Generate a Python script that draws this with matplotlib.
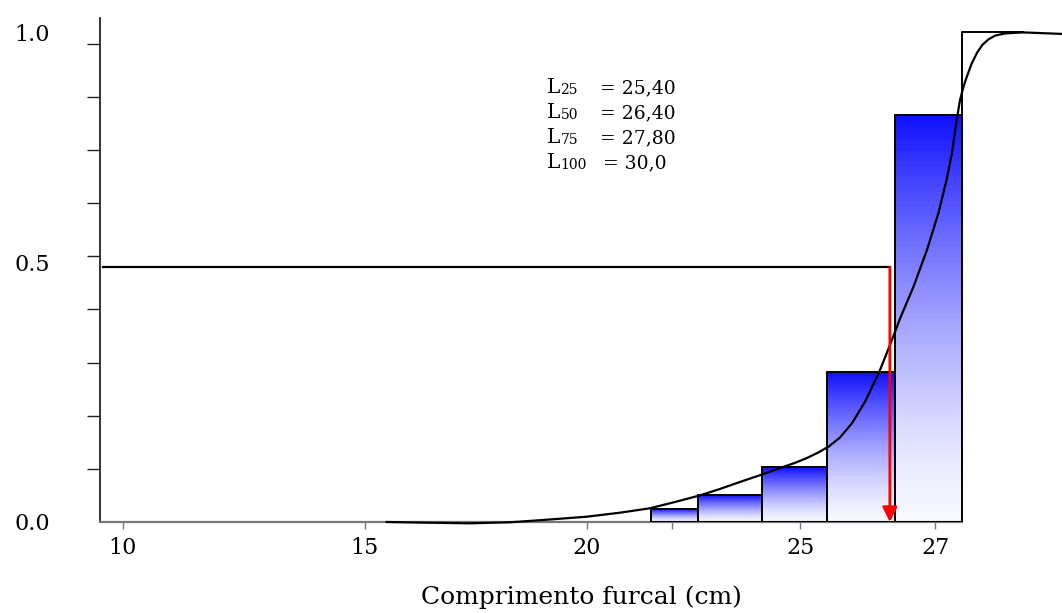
import matplotlib.pyplot as plt
import numpy as np
from matplotlib.colors import LinearSegmentedColormap

plt.rcParams['font.family'] = 'DejaVu Serif'

# class limits (cm) and cumulative relative frequency of each class
class_edges = [21.5, 22.6, 24.1, 25.4, 26.4, 27.4]
cum_freq = [0.027, 0.055, 0.112, 0.306, 0.831]
last_class = [27.4, 28.3]
last_value = 1.0

# fitted curve
curve_x = [15.50, 16.40, 17.37, 18.27, 19.02, 20.00, 20.78, 21.48, 22.07, 22.66,
           23.12, 23.59, 24.11, 24.60, 24.88, 25.10, 25.27, 25.43, 25.59, 25.77,
           25.96, 26.17, 26.33, 26.48, 26.68, 26.88, 27.05, 27.17, 27.25, 27.32,
           27.37, 27.42, 27.47, 27.54, 27.62, 27.70, 27.79, 27.89, 28.04, 28.30, 28.88]
curve_y = [0.0, -0.0014, -0.0027, -0.0006, 0.0041, 0.0108, 0.019, 0.028, 0.0409, 0.0545,
           0.0674, 0.0817, 0.097, 0.1123, 0.1207, 0.1305, 0.1419, 0.1546, 0.1724, 0.2018,
           0.245, 0.3053, 0.3608, 0.415, 0.4805, 0.5554, 0.631, 0.6984, 0.7535, 0.8209,
           0.8618, 0.8883, 0.9091, 0.9353, 0.9577, 0.9741, 0.9853, 0.9931, 0.9976, 0.9996,
           0.9965]

half_level = 0.52
l50_x = 26.33

lengths = ['25', '50', '75', '100']
values = ['25,40', '26,40', '27,80', '30,0']

x_ticks = [10, 15, 20, 25, 27]
x_minor = [22]

# the original axis is not linear: piecewise scale through the tick marks
knots_cm = [9, 10, 15, 20, 25, 27, 29]
knots_pos = [74.7, 123, 364.5, 586.7, 800, 935, 1070]


def forward(x):
    return np.interp(x, knots_cm, knots_pos)


def inverse(p):
    return np.interp(p, knots_pos, knots_cm)


fig = plt.figure(figsize=(10.62, 6.13), dpi=100)
ax = fig.add_axes([100 / 1062, 91 / 613, 962 / 1062, 504 / 613])
ax.set_xscale('function', functions=(forward, inverse))
ax.set_xlim(9.524, 28.88)
ax.set_ylim(0, 1.029)

# gradient filled bars (blue at the top fading to white)
cmap = LinearSegmentedColormap.from_list('bw', ['#f8f8ff', '#1010ff'])
n_strips = 80
for left, right, h in zip(class_edges[:-1], class_edges[1:], cum_freq):
    t = np.linspace(0, 1, n_strips + 1)
    bottoms = t[:-1] * h
    shade = ((t[:-1] + t[1:]) / 2) ** 1.4
    ax.bar([left] * n_strips, h / n_strips, width=right - left, bottom=bottoms,
           align='edge', color=cmap(shade), linewidth=0, antialiased=False, zorder=2)
    ax.bar(left, h, width=right - left, align='edge', fill=False,
           edgecolor='black', linewidth=1.4, zorder=3)

# open last class up to 1.0
ax.plot([last_class[0], last_class[0], last_class[1]],
        [cum_freq[-1], last_value, last_value], color='black', lw=1.4, zorder=3)

ax.plot(curve_x, curve_y, color='black', lw=1.6, zorder=4, clip_on=False,
        solid_joinstyle='round')

# 50 % line and arrow to L50
ax.plot([9.59, l50_x], [half_level, half_level], color='black', lw=1.6, zorder=4)
ax.annotate('', xy=(l50_x, 0), xytext=(l50_x, half_level),
            arrowprops=dict(arrowstyle='-|>', color='red', lw=2,
                            mutation_scale=22, shrinkA=0, shrinkB=0), zorder=5)

# text block
baselines = [93, 118, 143, 168]
for lab, val, yb in zip(lengths, values, baselines):
    ya = (522 - yb) / 504
    t = ax.text((547 - 100) / 962, ya, 'L', fontsize=14.5, va='baseline',
                transform=ax.transAxes)
    ax.annotate(lab, xy=(1, 0), xycoords=t, fontsize=10, va='bottom', ha='left')
    eq_x = 600 if lab != '100' else 603
    ax.text((eq_x - 100) / 962, ya, '= ' + val, fontsize=13.5, va='baseline',
            transform=ax.transAxes)

# axes styling
for s in ['top', 'right']:
    ax.spines[s].set_visible(False)
ax.spines['left'].set_color('#222222')
ax.spines['left'].set_linewidth(1.3)
ax.spines['bottom'].set_color('#777777')
ax.spines['bottom'].set_linewidth(1.6)
ax.spines['bottom'].set_bounds(9.524, last_class[0])

ax.set_xticks(x_ticks)
ax.set_xticklabels([str(v) for v in x_ticks])
ax.set_xticks(x_minor, minor=True)
ax.tick_params(axis='x', which='both', direction='out', length=5, width=1,
               color='#777777', labelsize=16, pad=6)

ax.set_yticks([0, 0.53, 1.0])
ax.set_yticklabels(['0.0', '0.5', '1.0'])
ax.set_yticks(np.arange(1, 10) * 0.1085, minor=True)
ax.tick_params(axis='y', which='major', length=0, labelsize=16, pad=36)
ax.tick_params(axis='y', which='minor', direction='out', length=9.4, width=1,
               color='#222222')

ax.set_xlabel('Comprimento furcal (cm)', fontsize=18, labelpad=19)

fig.savefig('out.png', dpi=100)
